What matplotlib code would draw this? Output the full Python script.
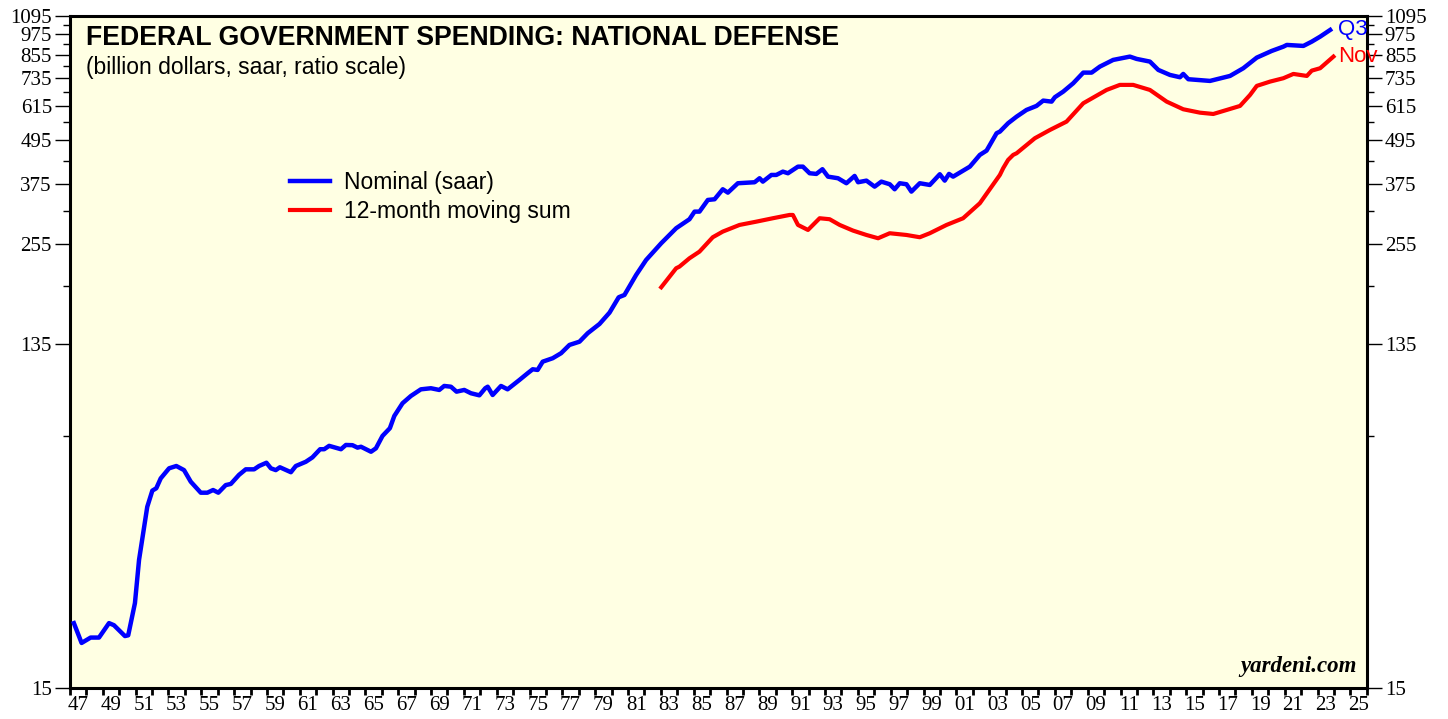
import matplotlib
matplotlib.use("Agg")
import matplotlib.pyplot as plt
from matplotlib.ticker import FixedLocator, FixedFormatter, NullFormatter

# nominal national defense spending (quarterly, saar, billion $)
nominal_year = [
    1947.24, 1947.71, 1948.26, 1948.77, 1949.38, 1949.68, 1950.35, 1950.55, 1950.96, 1951.21,
    1951.71, 1952.02, 1952.26, 1952.53, 1953.04, 1953.48, 1953.95, 1954.36, 1954.97, 1955.37,
    1955.72, 1956.04, 1956.49, 1956.80, 1957.30, 1957.71, 1958.22, 1958.52, 1958.97, 1959.24,
    1959.54, 1959.79, 1960.46, 1960.76, 1961.37, 1961.77, 1962.24, 1962.49, 1962.79, 1963.51,
    1963.81, 1964.21, 1964.52, 1964.73, 1965.34, 1965.64, 1966.04, 1966.49, 1966.76, 1967.06,
    1967.26, 1967.77, 1968.38, 1968.99, 1969.50, 1969.80, 1970.21, 1970.55, 1971.02, 1971.43,
    1971.94, 1972.30, 1972.45, 1972.75, 1973.26, 1973.66, 1974.38, 1974.88, 1975.19, 1975.49,
    1975.80, 1976.41, 1976.92, 1977.43, 1978.04, 1978.54, 1979.26, 1979.87, 1980.43, 1980.78,
    1981.49, 1982.10, 1983.02, 1983.93, 1984.74, 1985.05, 1985.35, 1985.86, 1986.27, 1986.77,
    1987.08, 1987.69, 1988.71, 1989.01, 1989.21, 1989.73, 1990.03, 1990.43, 1990.74, 1991.35,
    1991.65, 1992.06, 1992.47, 1992.84, 1993.18, 1993.79, 1994.30, 1994.80, 1995.01, 1995.52,
    1996.02, 1996.43, 1996.94, 1997.24, 1997.55, 1997.96, 1998.26, 1998.77, 1999.38, 1999.99,
    2000.29, 2000.55, 2000.80, 2001.82, 2002.43, 2002.84, 2003.45, 2003.65, 2004.15, 2004.67,
    2005.27, 2005.88, 2006.29, 2006.80, 2007.00, 2007.51, 2008.12, 2008.73, 2009.24, 2009.74,
    2010.55, 2011.07, 2011.57, 2011.98, 2012.79, 2013.30, 2014.01, 2014.62, 2014.82, 2015.13,
    2015.64, 2016.45, 2016.86, 2017.67, 2018.48, 2019.30, 2020.21, 2020.92, 2021.13, 2022.14,
    2022.65, 2023.16, 2023.77,
]
nominal_value = [
    22.7, 20.0, 20.7, 20.7, 22.7, 22.4, 20.9, 21.0, 25.8, 34.0,
    47.7, 52.9, 53.7, 57.2, 61.0, 61.9, 60.3, 56.0, 52.2, 52.2,
    53.1, 52.2, 54.8, 55.2, 58.5, 60.6, 60.6, 61.9, 63.2, 61.0,
    60.3, 61.4, 59.5, 61.9, 63.6, 65.4, 68.9, 68.9, 70.4, 68.9,
    70.8, 70.7, 69.6, 70.0, 67.8, 69.3, 75.0, 78.8, 85.2, 89.5,
    92.4, 96.8, 101.0, 101.7, 100.6, 103.2, 102.7, 99.5, 100.6, 98.5,
    97.2, 101.7, 102.7, 97.4, 103.2, 101.0, 107.2, 111.9, 114.8, 114.3,
    120.5, 123.2, 127.2, 134.1, 136.9, 144.5, 153.3, 164.8, 181.8, 184.5,
    209.6, 230.7, 256.7, 282.5, 299.2, 314.1, 314.1, 338.4, 339.9, 362.3,
    354.6, 376.5, 378.9, 388.7, 380.4, 397.0, 397.0, 405.5, 401.3, 418.6,
    418.6, 401.3, 399.6, 411.8, 392.7, 388.7, 376.5, 394.5, 378.9, 382.8,
    368.4, 380.4, 374.1, 362.3, 376.5, 374.1, 356.9, 376.5, 372.4, 398.8,
    382.8, 399.6, 392.7, 418.6, 451.2, 463.7, 518.2, 523.5, 552.3, 576.1,
    601.2, 616.8, 638.1, 634.0, 652.1, 675.9, 713.1, 763.0, 763.0, 792.8,
    827.4, 836.4, 845.1, 832.8, 818.6, 776.3, 751.8, 740.8, 756.6, 731.5,
    728.3, 723.6, 731.5, 747.0, 784.7, 839.7, 876.3, 900.6, 910.5, 904.8,
    929.9, 960.0, 1002.0,
]

# 12-month moving sum of monthly outlays (billion $)
msum_year = [
    1983.02, 1983.93, 1984.13, 1984.74, 1985.35, 1986.16, 1986.77, 1987.79, 1988.81, 1989.82,
    1990.84, 1991.04, 1991.35, 1991.96, 1992.67, 1993.28, 1993.89, 1994.70, 1995.52, 1996.23,
    1996.94, 1997.96, 1998.77, 1999.38, 2000.40, 2001.41, 2002.43, 2003.65, 2003.85, 2004.15,
    2004.46, 2004.67, 2005.78, 2006.70, 2007.71, 2008.73, 2010.15, 2010.96, 2011.77, 2012.79,
    2013.81, 2014.82, 2015.84, 2016.65, 2017.47, 2018.28, 2018.89, 2019.30, 2020.11, 2020.92,
    2021.53, 2022.35, 2022.65, 2023.16, 2023.97,
]
msum_value = [
    193.8, 218.8, 221.1, 233.2, 243.3, 266.7, 276.5, 288.5, 294.6, 301.1,
    307.5, 307.5, 288.5, 279.4, 301.1, 299.2, 288.5, 278.3, 270.6, 265.0,
    273.6, 270.6, 266.7, 273.6, 288.5, 301.1, 331.4, 397.0, 414.4, 436.9,
    451.2, 456.0, 501.8, 529.1, 558.0, 627.4, 683.1, 705.5, 705.5, 683.1,
    634.0, 603.8, 590.8, 585.9, 601.2, 616.8, 661.7, 701.0, 720.5, 736.2,
    756.6, 747.0, 772.8, 784.7, 845.1,
]

ytick_values = [15, 135, 255, 375, 495, 615, 735, 855, 975, 1095]
yminor_values = [75, 195, 315, 435, 555, 675, 795, 915, 1035]
year_ticks = list(range(1947, 2027))
xlabel_years = list(range(1947, 2026, 2))
xtick_labels = [f"{y % 100:02d}" for y in xlabel_years]

BG = "#FFFFE3"
SANS = "Liberation Sans"
SERIF = "Liberation Serif"

fig = plt.figure(figsize=(14.48, 7.19), dpi=100)
ax = fig.add_axes([0.0483, 0.0431, 0.8956, 0.9346])
ax.set_facecolor(BG)

ax.plot(nominal_year, nominal_value, color="#0000FF", lw=3.2, solid_joinstyle="round",
        label="Nominal (saar)", zorder=3)
ax.plot(msum_year, msum_value, color="#FF0000", lw=3.0, solid_joinstyle="round",
        label="12-month moving sum", zorder=3)

ax.set_yscale("log")
ax.set_ylim(15, 1095)
ax.set_xlim(1947, 2026)

ax.yaxis.set_major_locator(FixedLocator(ytick_values))
ax.yaxis.set_major_formatter(FixedFormatter([str(v) for v in ytick_values]))
ax.yaxis.set_minor_locator(FixedLocator(yminor_values))
ax.yaxis.set_minor_formatter(NullFormatter())
ax.tick_params(axis="y", which="major", direction="out", length=11, width=1,
               left=True, right=True, labelleft=True, labelright=True,
               labelsize=15, pad=2)
ax.tick_params(axis="y", which="minor", direction="out", length=5, width=1,
               left=True, right=True)

ax.xaxis.set_major_locator(FixedLocator(year_ticks))
ax.xaxis.set_major_formatter(NullFormatter())
ax.xaxis.set_minor_locator(FixedLocator([y + 0.5 for y in xlabel_years]))
ax.xaxis.set_minor_formatter(FixedFormatter(xtick_labels))
ax.tick_params(axis="x", which="major", direction="out", length=5, width=2)
ax.tick_params(axis="x", which="minor", length=0, labelsize=15, pad=6)

for lab in ax.get_xticklabels(minor=True):
    lab.set_fontfamily(SERIF)
for lab in ax.yaxis.get_ticklabels(which="major"):
    lab.set_fontfamily(SERIF)

for sp in ax.spines.values():
    sp.set_linewidth(2.2)

ax.text(0.012, 0.986, "FEDERAL GOVERNMENT SPENDING: NATIONAL DEFENSE",
        transform=ax.transAxes, fontsize=19.2, fontweight="bold", family=SANS,
        va="top", ha="left")
ax.text(0.012, 0.941, "(billion dollars, saar, ratio scale)",
        transform=ax.transAxes, fontsize=16.5, family=SANS, va="top", ha="left")

leg = ax.legend(loc="upper left", bbox_to_anchor=(0.154, 0.8), frameon=False,
                prop={"family": SANS, "size": 16.5}, handlelength=1.75,
                handletextpad=0.6, labelspacing=0.28)

ax.text(nominal_year[-1] + 0.45, nominal_value[-1], "Q3", color="#0000FF",
        fontsize=16, family=SANS, va="center", ha="left", clip_on=False)
ax.text(msum_year[-1] + 0.3, msum_value[-1], "Nov", color="#FF0000",
        fontsize=16, family=SANS, va="center", ha="left", clip_on=False)

ax.text(0.992, 0.016, "yardeni.com", transform=ax.transAxes, fontsize=16.5,
        family=SERIF, fontweight="bold", style="italic", ha="right", va="bottom")

fig.savefig("out.png", dpi=100, facecolor="white")
